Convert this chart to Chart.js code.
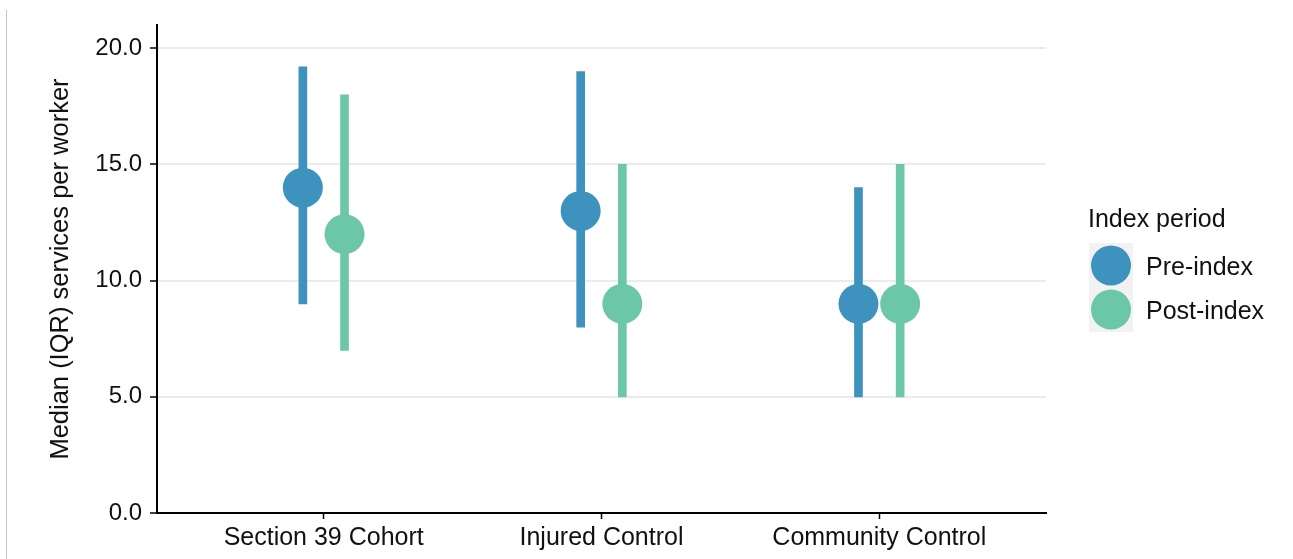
<!DOCTYPE html>
<html>
<head>
<meta charset="utf-8">
<script src="https://cdn.jsdelivr.net/npm/chart.js@4.4.1/dist/chart.umd.min.js"></script>
<style>
  html, body { margin: 0; padding: 0; background: #fff; }
  #wrap { position: relative; width: 1293px; height: 559px; }
</style>
</head>
<body>
<div id="wrap"><canvas id="c" width="1293" height="559"></canvas></div>
<script>
const categories = ['Section 39 Cohort', 'Injured Control', 'Community Control'];
const preMedian = [14, 13, 9];
const preQ1 = [9, 8, 5];
const preQ3 = [19.2, 19, 14];
const postMedian = [12, 9, 9];
const postQ1 = [7, 5, 5];
const postQ3 = [18, 15, 15];
const yTicks = [0, 5, 10, 15, 20];
const seriesNames = ['Pre-index', 'Post-index'];
const preColor = '#3D93BD';
const postColor = '#6CC6A8';
const dodge = 0.075;
const FONT = "'Liberation Sans', Arial, Helvetica, sans-serif";
const TEXT = '#111';

const xPos = (i, side) => (i + 1) + side * dodge;

const datasets = [
  {
    type: 'bar', label: 'pre-iqr', order: 2, grouped: false, barThickness: 8,
    backgroundColor: preColor, borderWidth: 0,
    data: categories.map((c, i) => ({ x: xPos(i, -1), y: [preQ1[i], preQ3[i]] }))
  },
  {
    type: 'bar', label: 'post-iqr', order: 2, grouped: false, barThickness: 8,
    backgroundColor: postColor, borderWidth: 0,
    data: categories.map((c, i) => ({ x: xPos(i, 1), y: [postQ1[i], postQ3[i]] }))
  },
  {
    type: 'scatter', label: seriesNames[0], order: 1,
    backgroundColor: preColor, borderWidth: 0, pointRadius: 20, pointHoverRadius: 20,
    data: categories.map((c, i) => ({ x: xPos(i, -1), y: preMedian[i] }))
  },
  {
    type: 'scatter', label: seriesNames[1], order: 1,
    backgroundColor: postColor, borderWidth: 0, pointRadius: 20, pointHoverRadius: 20,
    data: categories.map((c, i) => ({ x: xPos(i, 1), y: postMedian[i] }))
  }
];

const legendPlugin = {
  id: 'customLegend',
  afterDraw(chart) {
    const ctx = chart.ctx;
    ctx.save();
    // left page border line
    ctx.fillStyle = '#c4c4c4';
    ctx.fillRect(6, 10, 1, 549);
    // legend
    ctx.fillStyle = TEXT;
    ctx.font = '25px ' + FONT;
    ctx.textBaseline = 'alphabetic';
    ctx.textAlign = 'left';
    ctx.fillText('Index period', 1088, 227);
    ctx.fillStyle = '#F2F2F2';
    ctx.fillRect(1089, 243, 44, 89);
    const cols = [preColor, postColor];
    const cy = [265.5, 309.5];
    for (let k = 0; k < 2; k++) {
      ctx.beginPath();
      ctx.fillStyle = cols[k];
      ctx.arc(1111, cy[k], 20, 0, Math.PI * 2);
      ctx.fill();
      ctx.fillStyle = TEXT;
      ctx.fillText(seriesNames[k], 1146, cy[k] + 9);
    }
    ctx.restore();
  }
};

new Chart(document.getElementById('c'), {
  type: 'bar',
  data: { datasets },
  plugins: [legendPlugin],
  options: {
    responsive: false,
    animation: false,
    events: [],
    layout: { padding: { left: 38, right: 247, top: 25, bottom: 0 } },
    plugins: { legend: { display: false }, tooltip: { enabled: false } },
    scales: {
      x: {
        type: 'linear', min: 0.4, max: 3.6, offset: false,
        afterBuildTicks: (s) => { s.ticks = categories.map((c, i) => ({ value: i + 1 })); },
        afterFit: (s) => { s.height = 46; },
        ticks: {
          callback: (v) => categories[Math.round(v) - 1],
          font: { family: FONT, size: 25 }, color: TEXT, padding: 4, maxRotation: 0, autoSkip: false
        },
        grid: { offset: false, drawOnChartArea: false, drawTicks: true, tickLength: 6, tickColor: '#000', tickWidth: 1.5 },
        border: { display: true, color: '#000', width: 2 }
      },
      y: {
        type: 'linear', min: 0, max: 21,
        afterBuildTicks: (s) => { s.ticks = yTicks.map(v => ({ value: v })); },
        afterFit: (s) => { s.width = 119; },
        ticks: {
          callback: (v) => Number(v).toFixed(1),
          font: { family: FONT, size: 24 }, color: TEXT, padding: 8
        },
        grid: { offset: false, color: '#EBEBEB', lineWidth: 2, drawTicks: true, tickLength: 7, tickColor: '#000', tickWidth: 1.5 },
        border: { display: true, color: '#000', width: 2 },
        title: {
          display: true, text: 'Median (IQR) services per worker',
          font: { family: FONT, size: 25.5 }, color: TEXT, padding: { top: 8, bottom: 0 }
        }
      }
    }
  }
});
</script>
</body>
</html>
